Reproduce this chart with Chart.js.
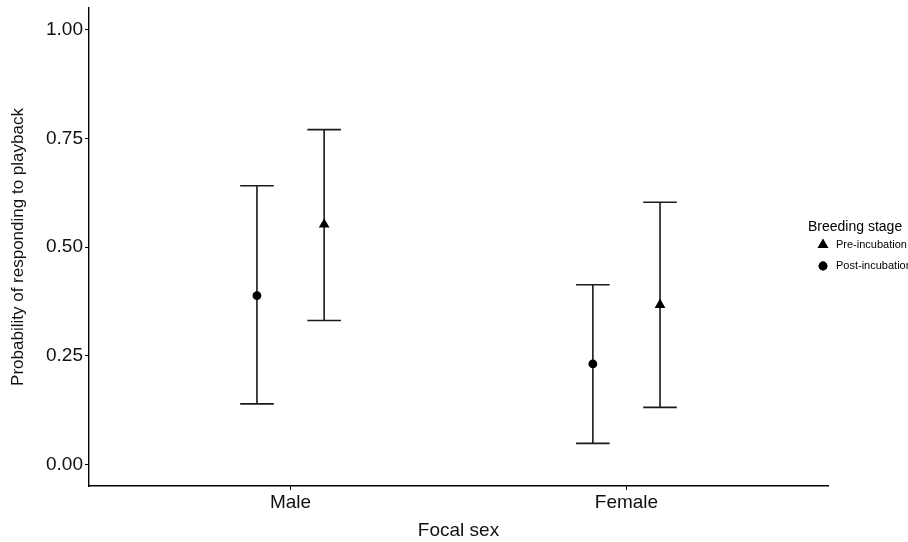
<!DOCTYPE html>
<html>
<head>
<meta charset="utf-8">
<script src="https://cdn.jsdelivr.net/npm/chart.js@4.4.1/dist/chart.umd.min.js"></script>
<style>
  body { margin: 0; background: #fff; }
  canvas { display: block; }
</style>
</head>
<body>
<canvas id="probChart" width="908" height="542"></canvas>
<script>
const categories = ['Male', 'Female'];
const stages = ['Pre-incubation', 'Post-incubation'];

// estimated probability and interval ends per category
const preMean = [0.552, 0.367];
const preLow = [0.331, 0.131];
const preHigh = [0.770, 0.603];

const postMean = [0.388, 0.231];
const postLow = [0.139, 0.048];
const postHigh = [0.641, 0.413];

const yTicks = [0, 0.25, 0.5, 0.75, 1];

const dodge = 0.1;
const capHalf = 0.05;
const font = "'Liberation Sans', Arial, sans-serif";

function points(means, shift) {
    return means.map((v, i) => ({ x: i + 1 + shift, y: v }));
}

const errorBars = {
    id: 'errorBars',
    beforeDatasetsDraw(chart) {
        const { ctx, scales: { x, y } } = chart;
        const sets = [
            { low: postLow, high: postHigh, shift: -dodge },
            { low: preLow, high: preHigh, shift: dodge }
        ];
        ctx.save();
        ctx.strokeStyle = '#1a1a1a';
        ctx.lineWidth = 1.6;
        sets.forEach(s => {
            s.low.forEach((lo, i) => {
                const cx = x.getPixelForValue(i + 1 + s.shift);
                const x0 = x.getPixelForValue(i + 1 + s.shift - capHalf);
                const x1 = x.getPixelForValue(i + 1 + s.shift + capHalf);
                const yLo = y.getPixelForValue(lo);
                const yHi = y.getPixelForValue(s.high[i]);
                ctx.beginPath();
                ctx.moveTo(cx, yLo); ctx.lineTo(cx, yHi);
                ctx.moveTo(x0, yLo); ctx.lineTo(x1, yLo);
                ctx.moveTo(x0, yHi); ctx.lineTo(x1, yHi);
                ctx.stroke();
            });
        });
        ctx.restore();
    }
};

const sideLegend = {
    id: 'sideLegend',
    afterDraw(chart) {
        const ctx = chart.ctx;
        ctx.save();
        ctx.fillStyle = '#000';
        ctx.textBaseline = 'middle';
        ctx.textAlign = 'left';
        ctx.font = '14px ' + font;
        ctx.fillText('Breeding stage', 808, 227);
        ctx.font = '11px ' + font;
        chart.data.datasets.forEach((ds, i) => {
            const ly = 245 + i * 21;
            Chart.helpers.drawPoint(ctx, {
                pointStyle: ds.pointStyle, radius: ds.pointRadius,
                borderWidth: 0
            }, 823, ly);
            ctx.fillStyle = '#000';
            ctx.fill();
            ctx.fillText(ds.label, 836, ly);
        });
        ctx.restore();
    }
};

new Chart(document.getElementById('probChart'), {
    type: 'scatter',
    data: {
        datasets: [{
            label: stages[0],
            data: points(preMean, dodge),
            pointStyle: 'triangle',
            pointRadius: 6.2,
            backgroundColor: '#000',
            borderWidth: 0
        }, {
            label: stages[1],
            data: points(postMean, -dodge),
            pointStyle: 'circle',
            pointRadius: 4.4,
            backgroundColor: '#000',
            borderWidth: 0
        }]
    },
    options: {
        responsive: false,
        devicePixelRatio: 1,
        animation: false,
        layout: { padding: { top: 8, right: 80, left: 0, bottom: 0 } },
        plugins: {
            legend: { display: false },
            tooltip: { enabled: false }
        },
        scales: {
            x: {
                type: 'linear',
                min: 0.4,
                max: 2.6,
                afterBuildTicks: s => { s.ticks = categories.map((c, i) => ({ value: i + 1 })); },
                afterFit: s => { s.height = 56; s.paddingLeft = 0; s.paddingRight = 0; },
                ticks: {
                    callback: (v) => categories[v - 1],
                    color: '#111',
                    font: { family: font, size: 19 },
                    padding: 1,
                    maxRotation: 0
                },
                grid: { drawOnChartArea: false, drawTicks: true, tickLength: 4, color: '#000', tickWidth: 1 },
                border: { display: true, color: '#000', width: 1.4 },
                title: {
                    display: true,
                    text: 'Focal sex',
                    color: '#111',
                    font: { family: font, size: 19 },
                    padding: { top: 0, bottom: 0 }
                }
            },
            y: {
                min: -0.05,
                max: 1.05,
                afterBuildTicks: s => { s.ticks = yTicks.map(v => ({ value: v })); },
                afterFit: s => { s.width = 89; s.paddingTop = 0; s.paddingBottom = 0; },
                ticks: {
                    callback: v => v.toFixed(2),
                    color: '#111',
                    font: { family: font, size: 19 },
                    padding: 2
                },
                grid: { drawOnChartArea: false, drawTicks: true, tickLength: 4, color: '#000', tickWidth: 1 },
                border: { display: true, color: '#000', width: 1.4 },
                title: {
                    display: true,
                    text: 'Probability of responding to playback',
                    color: '#111',
                    font: { family: font, size: 17 },
                    padding: { top: 8, bottom: 0 }
                }
            }
        }
    },
    plugins: [errorBars, sideLegend]
});
</script>
</body>
</html>
